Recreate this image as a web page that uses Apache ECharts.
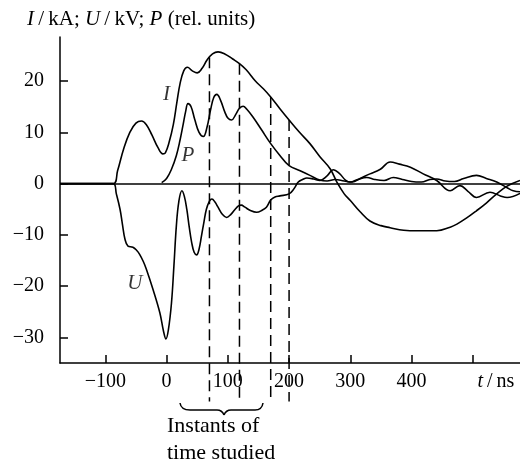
<!DOCTYPE html>
<html>
<head>
<meta charset="utf-8">
<script src="https://cdn.jsdelivr.net/npm/echarts@6/dist/echarts.min.js"></script>
<style>
html, body { margin: 0; padding: 0; background: #fff; }
#chart { width: 520px; height: 466px; }
</style>
</head>
<body>
<div id="chart"></div>
<script>
// time in ns
var current_I = [
    [-174, 0], [-130, 0], [-87, 0], [-80, 2.5], [-70, 6.8], [-60, 10], [-50, 11.8], [-41, 12.2],
    [-33, 11.5], [-24, 9.5], [-14, 7], [-6, 5.8], [-2, 6], [4, 8], [11, 11.5], [17, 16],
    [22, 19.5], [28, 22], [34, 22.7], [42, 22], [50, 21.6], [58, 22.5], [66, 24.1], [75, 25.3],
    [84, 25.7], [95, 25.3], [108, 24.3], [119, 23.4], [130, 22.2], [145, 20], [158, 18.5],
    [170, 16.9], [185, 14.6], [200, 12.4], [217, 10], [234, 7.8], [250, 5.3], [267, 2.9],
    [278, 0.3], [290, -2], [300, -3.3], [316, -5.5], [332, -7.3], [350, -8.2], [365, -8.6],
    [387, -9.1], [410, -9.2], [441, -9.2], [463, -8.5], [474, -7.9], [490, -6.7], [506, -5.3],
    [522, -3.8], [539, -2], [556, -0.5], [577, 0.6]
];
var power_P = [
    [-8, 0.2], [0, 1], [8, 2.8], [16, 5.5], [22, 8.5], [27, 11.5], [31, 14], [35, 15.6], [40, 15],
    [46, 12.5], [53, 10], [60, 9.2], [66, 11], [72, 14.5], [77, 16.8], [82, 17.4], [88, 16.3],
    [95, 14], [100, 12.8], [106, 12.4], [113, 13.5], [119, 14.7], [125, 15.1], [131, 14.5],
    [141, 13], [155, 10.5], [170, 7.8], [185, 5.5], [200, 3.5], [218, 2.5], [234, 1.6],
    [250, 0.7], [262, 0.5], [275, 0.8], [290, 0.5], [303, 0.3], [316, 1], [332, 1.9], [349, 2.8],
    [365, 4.2], [380, 3.8], [398, 3.2], [419, 1.9], [441, 0.6], [463, -1.4], [479, -0.4],
    [492, -1.5], [506, -2.7], [528, -1.7], [545, -2.4], [556, -2.7], [577, -1.9]
];
var voltage_U = [
    [-174, 0], [-130, 0], [-87, 0], [-82, -2], [-76, -5], [-72, -8], [-68, -10.8], [-63, -12.2],
    [-55, -12.4], [-49, -13], [-44, -13.8], [-38, -15.2], [-33, -16.7], [-22, -20.7], [-11, -25.2],
    [-5, -28.8], [-1, -30.3], [3, -28.5], [8, -23.3], [12, -16], [16, -8.2], [20, -3.5], [25, -1.4],
    [29, -2.5], [33, -5], [37, -8.5], [41, -11.5], [45, -13.4], [49, -13.9], [53, -12.8],
    [57, -10.2], [61, -7.5], [65, -5], [70, -3.4], [74, -3], [79, -3.6], [84, -4.6], [91, -6],
    [98, -6.6], [105, -6], [112, -5], [118, -4.3], [122, -4.2], [128, -4.6], [136, -5.2],
    [147, -5.6], [156, -5.2], [163, -4.6], [170, -3.2], [177, -2.6], [185, -2.4], [200, -2],
    [208, -1], [215, 0.3], [222, 0.8], [229, 1.1], [240, 0.9], [250, 0.6], [262, 1.5], [272, 2.7],
    [282, 2], [292, 0.7], [300, 0.3], [312, 0.8], [327, 1.2], [340, 0.8], [355, 0.6], [370, 1.2],
    [385, 0.8], [400, 0.4], [416, 0.3], [430, 0.8], [441, 0.9], [455, 0.5], [470, 0.4], [485, 1],
    [506, 1.6], [522, 1], [539, 0.3], [556, -0.8], [566, -1.4], [577, -1.6]
];
var instants = [70, 119, 170, 200];
var xTicks = [-100, 0, 100, 200, 300, 400, 500];
var yTicks = [-30, -20, -10, 0, 10, 20];
var curveNames = ['I', 'P', 'U'];
var curveNameAt = [[0, 17.4], [35, 5.4], [-52, -19.5]];

var FONT = 'Liberation Serif';
var dashBottom = -42.5;

// value of I at time t, so the dashed lines stop on the curve
function valueAt(data, t) {
    for (var i = 1; i < data.length; i++) {
        if (data[i][0] >= t) {
            var a = data[i - 1], b = data[i];
            return a[1] + (b[1] - a[1]) * (t - a[0]) / (b[0] - a[0]);
        }
    }
    return 0;
}

function curve(data) {
    return {
        type: 'line',
        data: data,
        showSymbol: false,
        smooth: 0.4,
        lineStyle: { color: '#000', width: 1.6 },
        silent: true
    };
}

var series = [curve(current_I), curve(power_P), curve(voltage_U)];
series[0].markLine = {
    silent: true,
    symbol: 'none',
    label: { show: false },
    lineStyle: { color: '#000', width: 1.5, type: 'solid' },
    data: [{ yAxis: 0 }]
};

instants.forEach(function (t) {
    series.push({
        type: 'line',
        data: [[t, valueAt(current_I, t)], [t, dashBottom]],
        showSymbol: false,
        clip: false,
        silent: true,
        lineStyle: { color: '#000', width: 1.5, type: [11, 6] }
    });
});

series.push({
    type: 'scatter',
    symbolSize: 0,
    silent: true,
    data: curveNameAt.map(function (p, i) { return [p[0], p[1], curveNames[i]]; }),
    label: {
        show: true,
        position: 'inside',
        formatter: function (p) { return p.value[2]; },
        fontFamily: FONT,
        fontStyle: 'italic',
        fontSize: 21,
        color: '#000'
    }
});

// curly brace under the axis
var braceStyle = { stroke: '#000', lineWidth: 1.5, fill: null };
function q(x1, y1, cx, cy, x2, y2) {
    return { type: 'bezierCurve', shape: { x1: x1, y1: y1, cpx1: cx, cpy1: cy, x2: x2, y2: y2 }, style: braceStyle, silent: true };
}
function ln(x1, y1, x2, y2) {
    return { type: 'line', shape: { x1: x1, y1: y1, x2: x2, y2: y2 }, style: braceStyle, silent: true };
}

var chart = echarts.init(document.getElementById('chart'));

var option = {
    animation: false,
    title: {
        text: '{i|I}\u2009/\u2009kA; {i|U}\u2009/\u2009kV; {i|P} (rel. units)',
        left: 22,
        top: 4,
        textStyle: {
            fontFamily: FONT, fontSize: 21, fontWeight: 'normal', color: '#000',
            rich: { i: { fontFamily: FONT, fontSize: 21, fontStyle: 'italic', color: '#000' } }
        }
    },
    grid: { left: 60, right: 0, top: 37, bottom: 103 },
    xAxis: {
        type: 'value',
        min: -174,
        max: 577,
        splitLine: { show: false },
        axisLine: { onZero: false, lineStyle: { color: '#000', width: 1.5 } },
        axisTick: { inside: true, length: 8, customValues: xTicks, lineStyle: { color: '#000', width: 1.5 } },
        axisLabel: {
            customValues: xTicks,
            margin: 9,
            fontFamily: FONT, fontSize: 20, color: '#000',
            formatter: function (v) {
                if (v === 500) return '{it|t}{n|\u2009/\u2009ns}';
                return String(v).replace('-', '\u2212');
            },
            rich: {
                it: { fontFamily: FONT, fontSize: 20, fontStyle: 'italic', color: '#000', padding: [0, 0, 0, 46] },
                n: { fontFamily: FONT, fontSize: 20, color: '#000' }
            }
        }
    },
    yAxis: {
        type: 'value',
        min: -35,
        max: 28.6,
        splitLine: { show: false },
        axisLine: { show: true, onZero: false, lineStyle: { color: '#000', width: 1.5 } },
        axisTick: { show: true, inside: true, length: 8, customValues: yTicks, lineStyle: { color: '#000', width: 1.5 } },
        axisLabel: {
            customValues: yTicks,
            margin: 16,
            fontFamily: FONT, fontSize: 20, color: '#000',
            formatter: function (v) { return String(v).replace('-', '\u2212'); }
        }
    },
    graphic: [
        q(180, 403, 181, 410, 190, 410),
        ln(190, 410, 217, 410),
        q(217, 410, 222, 410, 224, 415),
        q(224, 415, 226, 410, 231, 410),
        ln(231, 410, 255, 410),
        q(255, 410, 262, 410, 263, 403),
        {
            type: 'text', left: 167, top: 415,
            style: { text: 'Instants of', font: '22px "Liberation Serif"', fill: '#000' }
        },
        {
            type: 'text', left: 167, top: 442,
            style: { text: 'time studied', font: '22px "Liberation Serif"', fill: '#000' }
        }
    ],
    series: series
};

chart.setOption(option);
</script>
</body>
</html>
